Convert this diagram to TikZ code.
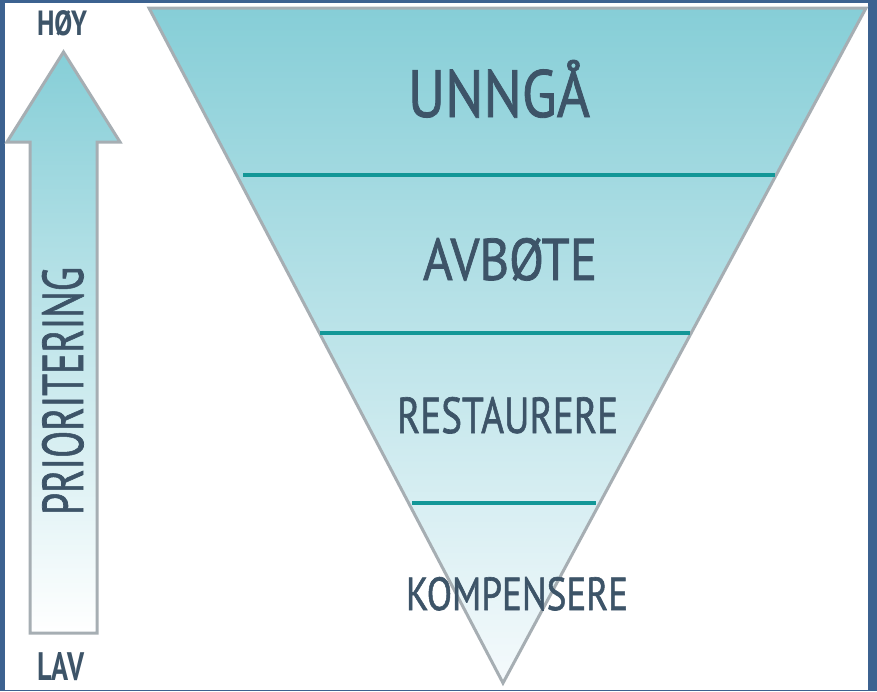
\documentclass[tikz,border=0pt]{standalone}
\usepackage{fontspec}
\setmainfont{PT Sans}
\newfontfamily\labelfont[FakeBold=1.3]{PT Sans}
\usepackage{graphicx}
\definecolor{bgblue}{HTML}{3C6290}
\definecolor{txt}{HTML}{3D5468}
\definecolor{edge}{HTML}{A6AEB3}
\definecolor{teal}{HTML}{129797}
\definecolor{topc}{HTML}{86CED7}
\definecolor{midc}{HTML}{BDE3E9}
\definecolor{botc}{HTML}{F5FAFC}
\newsavebox\fitbox
\newcommand\fittext[3]{\sbox\fitbox{#3}\resizebox{#1}{#2}{\rlap{#3}\rule{0pt}{\fontcharht\font`H}\hspace*{\wd\fitbox}}}
\tikzset{
  outline/.style={draw=edge, line width=3pt, line join=miter},
  divider/.style={draw=teal, line width=3.4pt},
  lbl/.style={anchor=base west, inner sep=0pt, outer sep=0pt, text=txt, font=\labelfont},
}
\begin{document}
\begin{tikzpicture}[x=1pt,y=-1pt]
\useasboundingbox (0,0) rectangle (877,691);
\fill[bgblue] (0,0) rectangle (877,691);
\fill[white] (5,3) rectangle (868,690);
% triangle
\coordinate (tl) at (149,8);
\coordinate (tr) at (866,8);
\coordinate (ap) at (503,683);
\shade[top color=topc, middle color=midc, bottom color=botc] (tl) -- (tr) -- (ap) -- cycle;
\draw[outline] (tl) -- (tr) -- (ap) -- cycle;
% dividers
\coordinate (d1a) at (243,175); \coordinate (d1b) at (775,175);
\coordinate (d2a) at (320,333); \coordinate (d2b) at (690,333);
\coordinate (d3a) at (412,503); \coordinate (d3b) at (596,503);
\draw[divider] (d1a) -- (d1b);
\draw[divider] (d2a) -- (d2b);
\draw[divider] (d3a) -- (d3b);
% arrow
\coordinate (tip) at (63.5,52);
\coordinate (hr) at (120,142);
\coordinate (sr) at (97,142);
\coordinate (sbr) at (97,633);
\coordinate (sbl) at (30,633);
\coordinate (sl) at (30,142);
\coordinate (hl) at (7,142);
\shade[top color=topc, middle color=midc!60!botc, bottom color=white] (tip) -- (hr) -- (sr) -- (sbr) -- (sbl) -- (sl) -- (hl) -- cycle;
\draw[outline] (tip) -- (hr) -- (sr) -- (sbr) -- (sbl) -- (sl) -- (hl) -- cycle;
% labels
\node[lbl] (unnga) at (408,117) {\fittext{182pt}{57pt}{UNNGÅ}};
\node[lbl] (avbote) at (423,280) {\fittext{174pt}{42pt}{AVBØTE}};
\node[lbl] (restaurere) at (397,433) {\fittext{221pt}{36pt}{RESTAURERE}};
\node[lbl] (kompensere) at (406,610) {\fittext{222pt}{33pt}{KOMPENSERE}};
\node[lbl, font=\bfseries] (hoy) at (37,35) {\fittext{50pt}{25pt}{HØY}};
\node[lbl, font=\bfseries] (lav) at (37,680) {\fittext{47pt}{28pt}{LAV}};
\node[lbl, rotate=90] (prio) at (83,515) {\fittext{248pt}{41pt}{PRIORITERING}};
\end{tikzpicture}
\end{document}
